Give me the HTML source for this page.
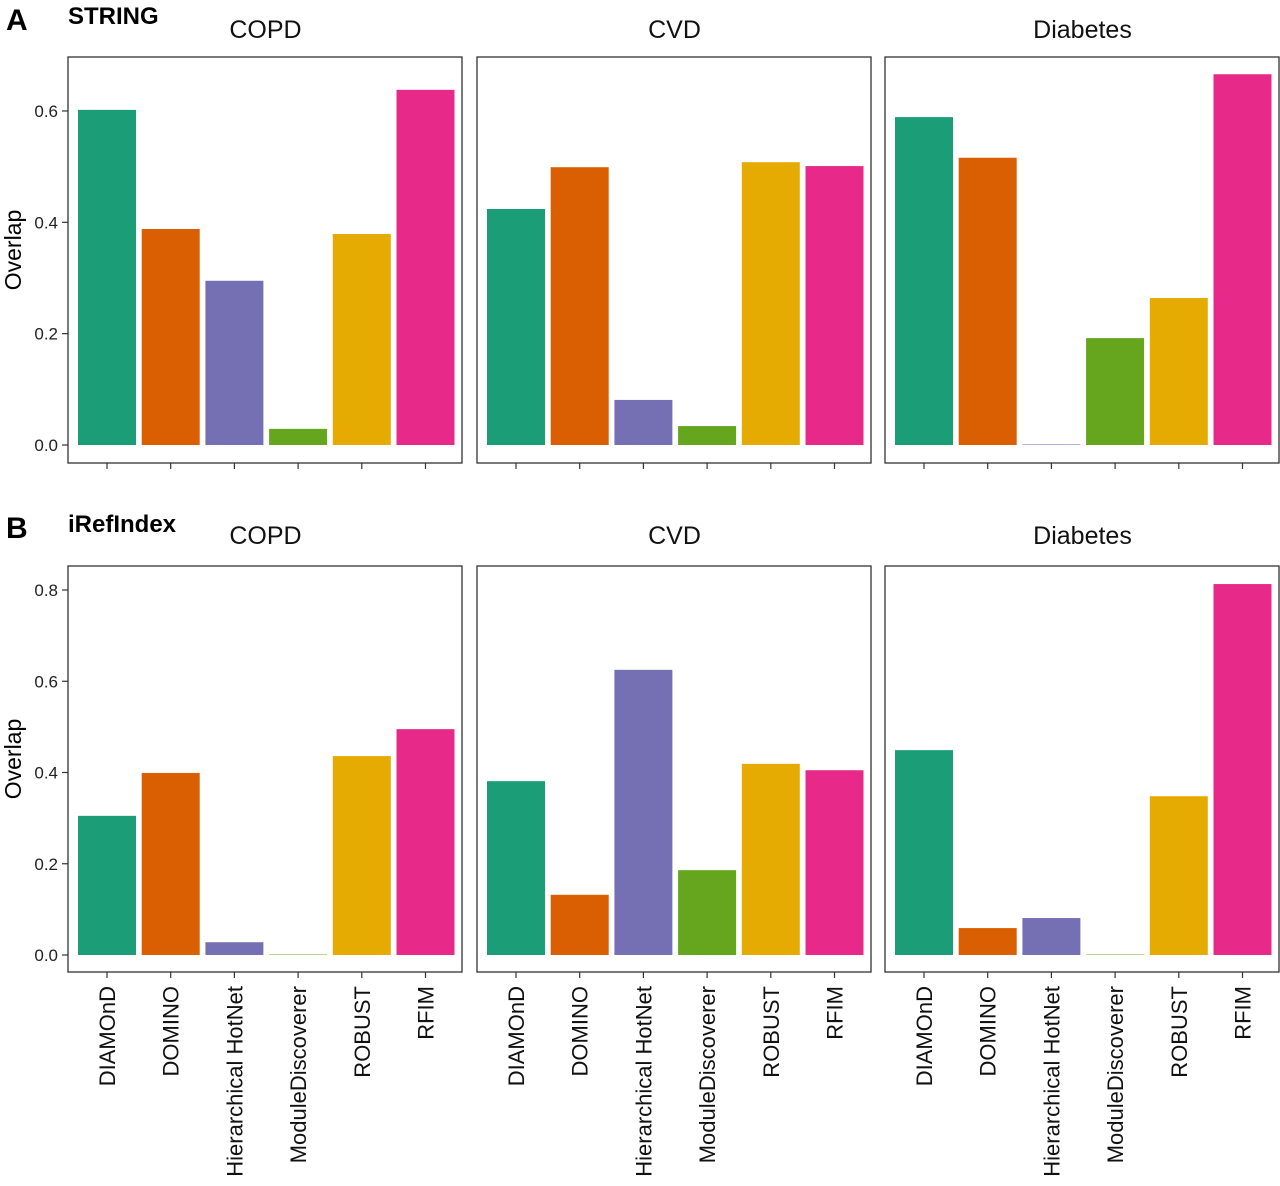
<!DOCTYPE html>
<html><head><meta charset="utf-8"><style>
body{margin:0;background:#fff;}
svg{display:block;font-family:"Liberation Sans",Arial,sans-serif;}
</style></head><body>
<svg id="chart" width="1280" height="1186" viewBox="0 0 1280 1186"></svg>
<script>
const methods = ["DIAMOnD","DOMINO","Hierarchical HotNet","ModuleDiscoverer","ROBUST","RFIM"];
const diseases = ["COPD","CVD","Diabetes"];
const colors = ["#1b9e77","#d95f02","#7570b3","#66a61e","#e6ab02","#e7298a"];
const stringCOPD = [0.602,0.388,0.295,0.029,0.379,0.638];
const stringCVD = [0.424,0.499,0.081,0.034,0.508,0.501];
const stringDiabetes = [0.589,0.516,0.001,0.192,0.264,0.666];
const irefCOPD = [0.305,0.399,0.028,0.001,0.436,0.495];
const irefCVD = [0.381,0.132,0.625,0.186,0.419,0.405];
const irefDiabetes = [0.449,0.059,0.081,0.001,0.348,0.813];
const ticksA = [0,0.2,0.4,0.6];
const ticksB = [0,0.2,0.4,0.6,0.8];
const tickLabelsA = ["0.0","0.2","0.4","0.6"];
const tickLabelsB = ["0.0","0.2","0.4","0.6","0.8"];

const svg = document.getElementById('chart');
const NS = "http://www.w3.org/2000/svg";
function mk(tag, attrs, parent){const e=document.createElementNS(NS,tag);for(const k in attrs)e.setAttribute(k,attrs[k]);(parent||svg).appendChild(e);return e;}

const facetX = [68,477,885];
const facetW = 395;
const panels = [
 {letter:"A",db:"STRING",top:57,bottom:463,zeroY:445,scale:556.7,data:[stringCOPD,stringCVD,stringDiabetes],ticks:ticksA,labels:tickLabelsA,stripY:38,letterY:30,labelsOn:false},
 {letter:"B",db:"iRefIndex",top:566,bottom:972,zeroY:955,scale:456.25,data:[irefCOPD,irefCVD,irefDiabetes],ticks:ticksB,labels:tickLabelsB,stripY:544,letterY:538,labelsOn:true}
];

panels.forEach((p,pi)=>{
  const g = mk('g',{});
  
  
  const yS = v => p.zeroY - v*p.scale;
  let t = mk('text',{x:6,y:p.letterY,'font-size':30,'font-weight':'bold'},g); t.textContent=p.letter;
   
  t = mk('text',{x:68,y:p.letterY-6,'font-size':24,'font-weight':'bold'},g); t.textContent=p.db;
   
  const ylab = (p.top+p.bottom)/2 - 10;
  t = mk('text',{x:0,y:0,'font-size':23,'text-anchor':'middle',transform:`translate(21,${ylab}) rotate(-90)`},g); t.textContent="Overlap";
   
  p.ticks.forEach((tv,i)=>{
    const y = yS(tv);
    mk('line',{x1:62,x2:68,y1:y,y2:y,stroke:'#333','stroke-width':1.2},g);
    const tl = mk('text',{x:58,y:y+6,'font-size':17,'text-anchor':'end',fill:'#222'},g);
    tl.textContent = p.labels[i];
     
  });
  diseases.forEach((d,di)=>{
    const fx = facetX[di];
    const st = mk('text',{x:fx+facetW/2,y:p.stripY,'font-size':25,'text-anchor':'middle',fill:'#111'},g);
    st.textContent = d;
     
    const step = 63.7, bw = 58;
    const x0 = fx + 39;
    p.data[di].forEach((v,mi)=>{
      const cx = x0 + mi*step;
      const y = yS(v);
      const r = mk('rect',{x:cx-bw/2,y:y,width:bw,height:p.zeroY-y,fill:colors[mi]},g);
      
      
      mk('line',{x1:cx,x2:cx,y1:p.bottom,y2:p.bottom+6,stroke:'#333','stroke-width':1.2},g);
      if(p.labelsOn){
        const lb = mk('text',{x:0,y:0,'font-size':22,'text-anchor':'end',fill:'#111',transform:`translate(${cx+8},${p.bottom+14}) rotate(-90)`},g);
        lb.textContent = methods[mi];
         
      }
    });
    const fr = mk('rect',{x:fx,y:p.top,width:facetW-1,height:p.bottom-p.top,fill:'none',stroke:'#333','stroke-width':1.3},g);
     
  });
});
</script>
</body></html>
